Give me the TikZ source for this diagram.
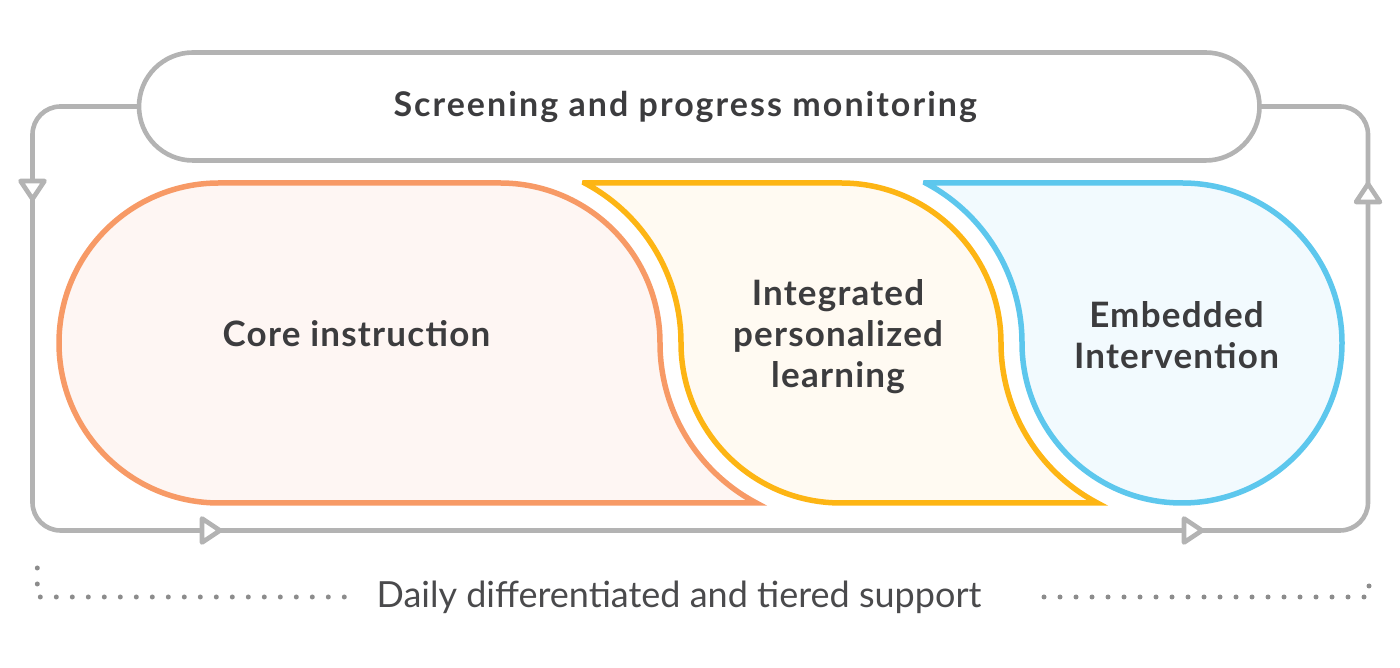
\documentclass[tikz,border=0pt]{standalone}
\usepackage{fontspec}
\setmainfont{Lato}
\definecolor{loopgray}{HTML}{B3B3B3}
\definecolor{dotgray}{HTML}{8C8C8C}
\definecolor{textdark}{HTML}{3C3C3E}
\definecolor{textsoft}{HTML}{4A4A4C}
\definecolor{orstroke}{HTML}{F79A66}
\definecolor{orfill}{HTML}{FEF6F3}
\definecolor{yestroke}{HTML}{FDB514}
\definecolor{yefill}{HTML}{FFFAF2}
\definecolor{blstroke}{HTML}{5DC7ED}
\definecolor{blfill}{HTML}{F2FAFE}
\tikzset{
  loopline/.style={draw=loopgray, line width=4.6pt},
  pill/.style={draw=loopgray, line width=4.6pt, rounded corners=54pt,
    minimum width=1120.5pt, minimum height=108pt, inner sep=0pt, outer sep=0pt,
    font=\bfseries\fontsize{34}{40}\selectfont\addfontfeatures{LetterSpace=6}, text=textdark},
  stage/.style={line width=5.5pt, line join=miter},
  stagelabel/.style={font=\bfseries\fontsize{35}{41}\selectfont\addfontfeatures{LetterSpace=3.5}, text=textdark, align=center, inner sep=0pt},
  dotline/.style={draw=dotgray, line width=5pt, line cap=round, dash pattern=on 0pt off 16pt},
  openarrow/.pic={\draw[loopgray, line width=4.6pt, fill=white, line join=round] (0,-12) -- (18,0) -- (0,12) -- cycle;}
}
\begin{document}
\begin{tikzpicture}[x=1pt,y=1pt]
\useasboundingbox (0,0) rectangle (1400,668);

% stages
\draw[stage, draw=orstroke, fill=orfill] (219,485) -- (500,485)
  arc[start angle=90, end angle=0, radius=160]
  arc[start angle=180, end angle=242.1, radius=181]
  -- (219,165) arc[start angle=270, end angle=90, radius=160] -- cycle;
\draw[stage, draw=yestroke, fill=yefill] (584.7,485) -- (841,485)
  arc[start angle=90, end angle=0, radius=160]
  arc[start angle=180, end angle=242.1, radius=181]
  -- (841,165) arc[start angle=270, end angle=180, radius=160]
  arc[start angle=0, end angle=62.1, radius=181] -- cycle;
\draw[stage, draw=blstroke, fill=blfill] (925.7,485) -- (1182,485)
  arc[start angle=90, end angle=-180, radius=160]
  arc[start angle=0, end angle=62.1, radius=181] -- cycle;

\node[stagelabel, anchor=base] (core) at (356.5,321) {Core instruction};
\node[stagelabel] (ipl) at (838,331) {Integrated\\personalized\\learning};
\node[stagelabel] (ei) at (1176.5,333) {Embedded\\Intervention};

% top pill and loop
\node[pill] (pill) at (699.25,561.5) {\hspace*{-28pt}Screening and progress monitoring};
\draw[loopline, rounded corners=28pt] (pill.west) -- (32.5,561.5) -- (32.5,137.5)
  -- (1368,137.5) -- (1368,561.5) -- (pill.east);
\pic[rotate=-90] at (32.5,487) {openarrow};
\pic[rotate=90] at (1368,466) {openarrow};
\pic at (202,137.5) {openarrow};
\pic at (1184,137.5) {openarrow};

% bottom dotted bracket
\coordinate (dl1) at (37.3,100);
\coordinate (dl2) at (37.3,71);
\coordinate (dl3) at (347,71);
\coordinate (dr1) at (1044,71);
\coordinate (dr2) at (1369,71);
\coordinate (dr3) at (1369,98);
\draw[dotline] (dl1) -- (dl2) -- (dl3);
\draw[dotline] (dr1) -- (dr2) -- (dr3);
\node[anchor=base, font=\fontsize{36}{42}\selectfont, text=textsoft, inner sep=0pt] (daily) at (679,60) {Daily differentiated and tiered support};
\end{tikzpicture}
\end{document}
